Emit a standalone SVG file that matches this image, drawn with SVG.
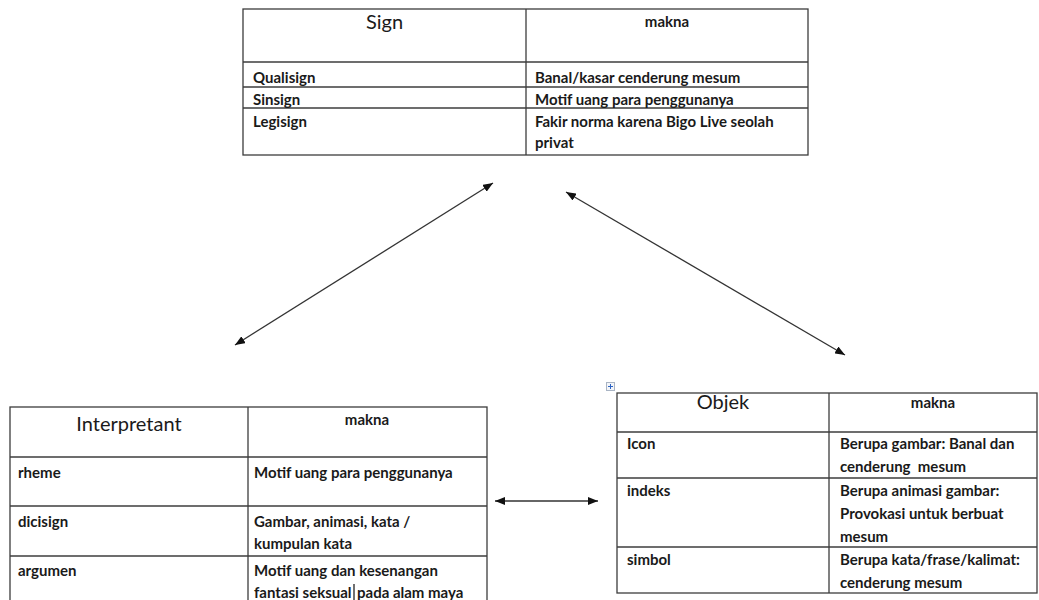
<svg xmlns="http://www.w3.org/2000/svg" width="1039" height="600" viewBox="0 0 1039 600">
  <defs>
    <style>
      .grid { fill: none; stroke: #3c3c3c; stroke-width: 1.3; }
      .t { font-family: Lato, "Liberation Sans", sans-serif; font-weight: 700; font-size: 15px; fill: #1a1a1a; }
      .m { font-family: Lato, "Liberation Sans", sans-serif; font-weight: 700; font-size: 15px; fill: #1a1a1a; text-anchor: middle; }
      .h { font-family: Lato, "Liberation Sans", sans-serif; font-weight: 400; font-size: 20px; fill: #1a1a1a; text-anchor: middle; }
      .conn { stroke: #333; stroke-width: 1.3; fill: none; marker-start: url(#ah); marker-end: url(#ah); }
    </style>
    <marker id="ah" viewBox="0 0 10 8" refX="10" refY="4" markerWidth="10" markerHeight="8" markerUnits="userSpaceOnUse" orient="auto-start-reverse">
      <path d="M0,0 L10,4 L0,8 z" fill="#111"/>
    </marker>
  </defs>
  <rect width="1039" height="600" fill="#fff"/>

  <g id="sign-table">
    <rect class="grid" x="243" y="9" width="565" height="146"/>
    <line class="grid" x1="243" y1="62" x2="808" y2="62"/>
    <line class="grid" x1="243" y1="87" x2="808" y2="87"/>
    <line class="grid" x1="243" y1="108" x2="808" y2="108"/>
    <line class="grid" x1="526" y1="9" x2="526" y2="155"/>
    <text class="h" x="384.5" y="29">Sign</text>
    <text class="m" x="667" y="27">makna</text>
    <text class="t" x="253" y="83">Qualisign</text>
    <text class="t" x="535" y="83">Banal/kasar cenderung mesum</text>
    <text class="t" x="253" y="105">Sinsign</text>
    <text class="t" x="535" y="105">Motif uang para penggunanya</text>
    <text class="t" x="253" y="127">Legisign</text>
    <text class="t" x="535" y="127">Fakir norma karena Bigo Live seolah</text>
    <text class="t" x="535" y="148">privat</text>
  </g>

  <g id="interpretant-table">
    <rect class="grid" x="10" y="407" width="477" height="210"/>
    <line class="grid" x1="10" y1="457" x2="487" y2="457"/>
    <line class="grid" x1="10" y1="506" x2="487" y2="506"/>
    <line class="grid" x1="10" y1="556" x2="487" y2="556"/>
    <line class="grid" x1="248" y1="407" x2="248" y2="617"/>
    <text class="h" x="129" y="431">Interpretant</text>
    <text class="m" x="367" y="425">makna</text>
    <text class="t" x="18" y="478">rheme</text>
    <text class="t" x="254" y="478">Motif uang para penggunanya</text>
    <text class="t" x="18" y="527">dicisign</text>
    <text class="t" x="254" y="527">Gambar, animasi, kata /</text>
    <text class="t" x="254" y="549">kumpulan kata</text>
    <text class="t" x="18" y="576">argumen</text>
    <text class="t" x="254" y="576">Motif uang dan kesenangan</text>
    <text class="t" x="254" y="598">fantasi seksual</text>
    <line x1="354" y1="584" x2="354" y2="600" stroke="#111" stroke-width="1.2"/>
    <text class="t" x="357" y="598">pada alam maya</text>
  </g>

  <g id="objek-table">
    <g id="move-handle">
      <rect x="606.5" y="382.5" width="8" height="8" fill="#f3f5f9" stroke="#a9b4c4" stroke-width="1"/>
      <path d="M610.5,384 V389 M608,386.5 H613" stroke="#2d64c4" stroke-width="1"/>
    </g>
    <rect class="grid" x="617" y="393" width="420" height="200"/>
    <line class="grid" x1="617" y1="432" x2="1037" y2="432"/>
    <line class="grid" x1="617" y1="478" x2="1037" y2="478"/>
    <line class="grid" x1="617" y1="547" x2="1037" y2="547"/>
    <line class="grid" x1="829" y1="393" x2="829" y2="593"/>
    <text class="h" x="723" y="409">Objek</text>
    <text class="m" x="933" y="408">makna</text>
    <text class="t" x="627" y="449">Icon</text>
    <text class="t" x="840" y="449">Berupa gambar: Banal dan</text>
    <text class="t" x="840" y="472" xml:space="preserve">cenderung  mesum</text>
    <text class="t" x="627" y="496">indeks</text>
    <text class="t" x="840" y="496">Berupa animasi gambar:</text>
    <text class="t" x="840" y="519">Provokasi untuk berbuat</text>
    <text class="t" x="840" y="542">mesum</text>
    <text class="t" x="627" y="565">simbol</text>
    <text class="t" x="840" y="565">Berupa kata/frase/kalimat:</text>
    <text class="t" x="840" y="588">cenderung mesum</text>
  </g>

  <g id="connectors">
    <line class="conn" x1="235" y1="345" x2="493" y2="183"/>
    <line class="conn" x1="566" y1="192" x2="845" y2="355"/>
    <line class="conn" x1="495" y1="501" x2="598" y2="501"/>
  </g>
</svg>
